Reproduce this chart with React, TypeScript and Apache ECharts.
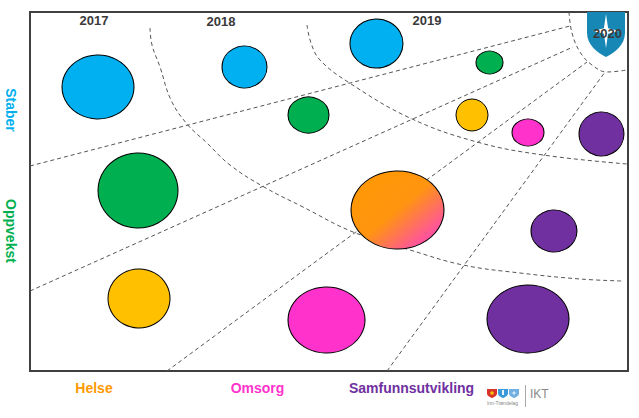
import React, { useEffect, useRef } from "react";
import * as echarts from "echarts";

// ---- data ----
const areas = ["Staber", "Oppvekst", "Helse", "Omsorg", "Samfunnsutvikling"];
const years = ["2017", "2018", "2019", "2020"];

// bubbles: area, x/y position inside the frame (0..598, 0..359), width/height
const bubbleArea = [
  "Staber", "Staber", "Staber",
  "Oppvekst", "Oppvekst", "Oppvekst",
  "Helse", "Omsorg", "Samfunnsutvikling",
  "Helse+Omsorg", "Samfunnsutvikling",
  "Helse", "Omsorg", "Samfunnsutvikling",
];
const bubbleX = [68, 214.5, 346.5, 459.5, 278.5, 108, 442, 498, 571.5, 367.5, 524, 109, 296.5, 498];
const bubbleY = [75, 55, 31.5, 50.5, 103, 178.5, 103, 120.5, 122, 198, 219, 286.5, 308, 307];
const bubbleW = [72, 45, 53, 27, 41, 80, 32, 32, 45, 93, 46, 62, 77, 82];
const bubbleH = [64, 42, 49, 23, 36, 75, 32, 27, 44, 78, 42, 59, 66, 68];

// dashed guide curves (same frame units)
const ray1 = [[0, 154], [540, 14]];
const ray2 = [[0, 279], [543, 35]];
const ray3 = [[137, 359], [557, 50]];
const ray4 = [[357, 359], [575, 60]];
const arc2020 = [[539, 0], [542, 21], [550, 40], [562, 53], [577, 60], [597, 58]];
const arc2019 = [[277, 13], [281, 31], [290, 48], [318, 70], [380, 106], [447, 130], [513, 143], [597, 152]];
const arc2018 = [[120, 16], [122, 33], [130, 55], [141, 88], [157, 112], [177, 131], [200, 153], [234, 175], [273, 195], [323, 220], [380, 238], [433, 253], [490, 261], [550, 267], [592, 269]];

const areaColors: Record<string, any> = {
  Staber: "#00b0f0",
  Oppvekst: "#00b050",
  Helse: "#ffc000",
  Omsorg: "#ff33cc",
  Samfunnsutvikling: "#7030a0",
};
const labelColors: Record<string, string> = {
  Staber: "#00b0f0",
  Oppvekst: "#00b050",
  Helse: "#ff9900",
  Omsorg: "#ff33cc",
  Samfunnsutvikling: "#7030a0",
};

const FONT = "'Liberation Sans', Arial, sans-serif";

echarts.graphic.registerShape(
  "shield",
  echarts.graphic.extendPath(
    "M0 0 L100 0 L100 55 C100 88 72 108 50 120 C28 108 0 88 0 55 Z",
    {}
  ) as any
);
echarts.graphic.registerShape(
  "star4",
  echarts.graphic.extendPath(
    "M50 0 L58 42 L100 50 L58 58 L50 100 L42 58 L0 50 L42 42 Z",
    {}
  ) as any
);

export default function App() {
  const ref = useRef<HTMLDivElement>(null);

  useEffect(() => {
    document.body.style.margin = "0";
    const chart = echarts.init(ref.current!, undefined, { renderer: "svg" });

    const gradient = new echarts.graphic.LinearGradient(0, 0, 1, 1, [
      { offset: 0, color: "#ff9900" },
      { offset: 0.5, color: "#ff9410" },
      { offset: 0.8, color: "#ff5a90" },
      { offset: 1, color: "#ff33cc" },
    ]);

    const scatterData = bubbleX.map((x, i) => ({
      value: [x, bubbleY[i]],
      symbolSize: [bubbleW[i], bubbleH[i]],
      itemStyle: {
        color: bubbleArea[i] === "Helse+Omsorg" ? gradient : areaColors[bubbleArea[i]],
      },
    }));

    const guide = (data: number[][], smooth: boolean) => ({
      type: "line",
      data,
      smooth: smooth ? 0.4 : false,
      symbol: "none",
      silent: true,
      z: 1,
      lineStyle: { color: "#555", width: 1, type: [4, 3] },
    });

    const yearPos = [
      [94, 20.5],
      [221, 21],
      [427, 20],
      [607.5, 33.5],
    ];
    const bottomLabels = [
      { t: "Helse", x: 94 },
      { t: "Omsorg", x: 257.5 },
      { t: "Samfunnsutvikling", x: 411.5 },
    ];
    const sideLabels = [
      { t: "Staber", y: 110 },
      { t: "Oppvekst", y: 231 },
    ];

    const graphics: any[] = [
      // main logo
      {
        type: "shield",
        x: 587,
        y: 12,
        scaleX: 0.38,
        scaleY: 0.375,
        z: 20,
        style: { fill: "#1788b5" },
      },
      {
        type: "star4",
        x: 593,
        y: 14,
        scaleX: 0.26,
        scaleY: 0.34,
        z: 21,
        style: { fill: "#ffffff" },
      },
      ...years.map((y, i) => ({
        type: "text",
        x: yearPos[i][0],
        y: yearPos[i][1],
        z: 30,
        style: {
          text: y,
          fill: "#3a3a3a",
          font: `bold 13px ${FONT}`,
          align: "center",
          verticalAlign: "middle",
        },
      })),
      ...bottomLabels.map((l) => ({
        type: "text",
        x: l.x,
        y: 388,
        z: 30,
        style: {
          text: l.t,
          fill: labelColors[l.t],
          font: `bold 14px ${FONT}`,
          align: "center",
          verticalAlign: "middle",
        },
      })),
      ...sideLabels.map((l) => ({
        type: "text",
        x: 11,
        y: l.y,
        rotation: -Math.PI / 2,
        z: 30,
        style: {
          text: l.t,
          fill: labelColors[l.t],
          font: `bold 14px ${FONT}`,
          align: "center",
          verticalAlign: "middle",
        },
      })),
      // small coat-of-arms logo
      { type: "shield", x: 487, y: 389, scaleX: 0.1, scaleY: 0.075, style: { fill: "#d9342b" } },
      { type: "circle", shape: { cx: 492, cy: 393, r: 1.8 }, style: { fill: "#f5c400" } },
      { type: "shield", x: 498, y: 389, scaleX: 0.1, scaleY: 0.075, style: { fill: "#3a9ad9" } },
      { type: "rect", shape: { x: 502, y: 390, width: 2, height: 5 }, style: { fill: "#e8f4fb" } },
      { type: "shield", x: 509, y: 389, scaleX: 0.1, scaleY: 0.075, style: { fill: "#6fb0e0" } },
      { type: "star4", x: 511, y: 390, scaleX: 0.06, scaleY: 0.06, style: { fill: "#ffffff" } },
      {
        type: "text",
        x: 502.5,
        y: 403,
        style: {
          text: "Inn-Trøndelag",
          fill: "#888",
          font: `5px ${FONT}`,
          align: "center",
          verticalAlign: "middle",
        },
      },
      {
        type: "line",
        shape: { x1: 525.5, y1: 385, x2: 525.5, y2: 407 },
        style: { stroke: "#aaa", lineWidth: 1 },
      },
      {
        type: "text",
        x: 530,
        y: 394,
        style: {
          text: "IKT",
          fill: "#888",
          font: `12px ${FONT}`,
          align: "left",
          verticalAlign: "middle",
        },
      },
    ];

    chart.setOption({
      animation: false,
      grid: {
        left: 30,
        top: 12,
        width: 598,
        height: 359,
        show: true,
        borderColor: "#404040",
        borderWidth: 2,
        backgroundColor: "#fff",
      },
      xAxis: { type: "value", min: 0, max: 598, show: false },
      yAxis: { type: "value", min: 0, max: 359, inverse: true, show: false },
      series: [
        guide(ray1, false),
        guide(ray2, false),
        guide(ray3, false),
        guide(ray4, false),
        guide(arc2020, true),
        guide(arc2019, true),
        guide(arc2018, true),
        {
          type: "scatter",
          symbol: "circle",
          z: 3,
          data: scatterData,
          itemStyle: { borderColor: "#000", borderWidth: 1, opacity: 1 },
          emphasis: { disabled: true },
        },
      ],
      graphic: graphics,
    });

    return () => chart.dispose();
  }, []);

  return <div ref={ref} style={{ width: 639, height: 418 }} />;
}
